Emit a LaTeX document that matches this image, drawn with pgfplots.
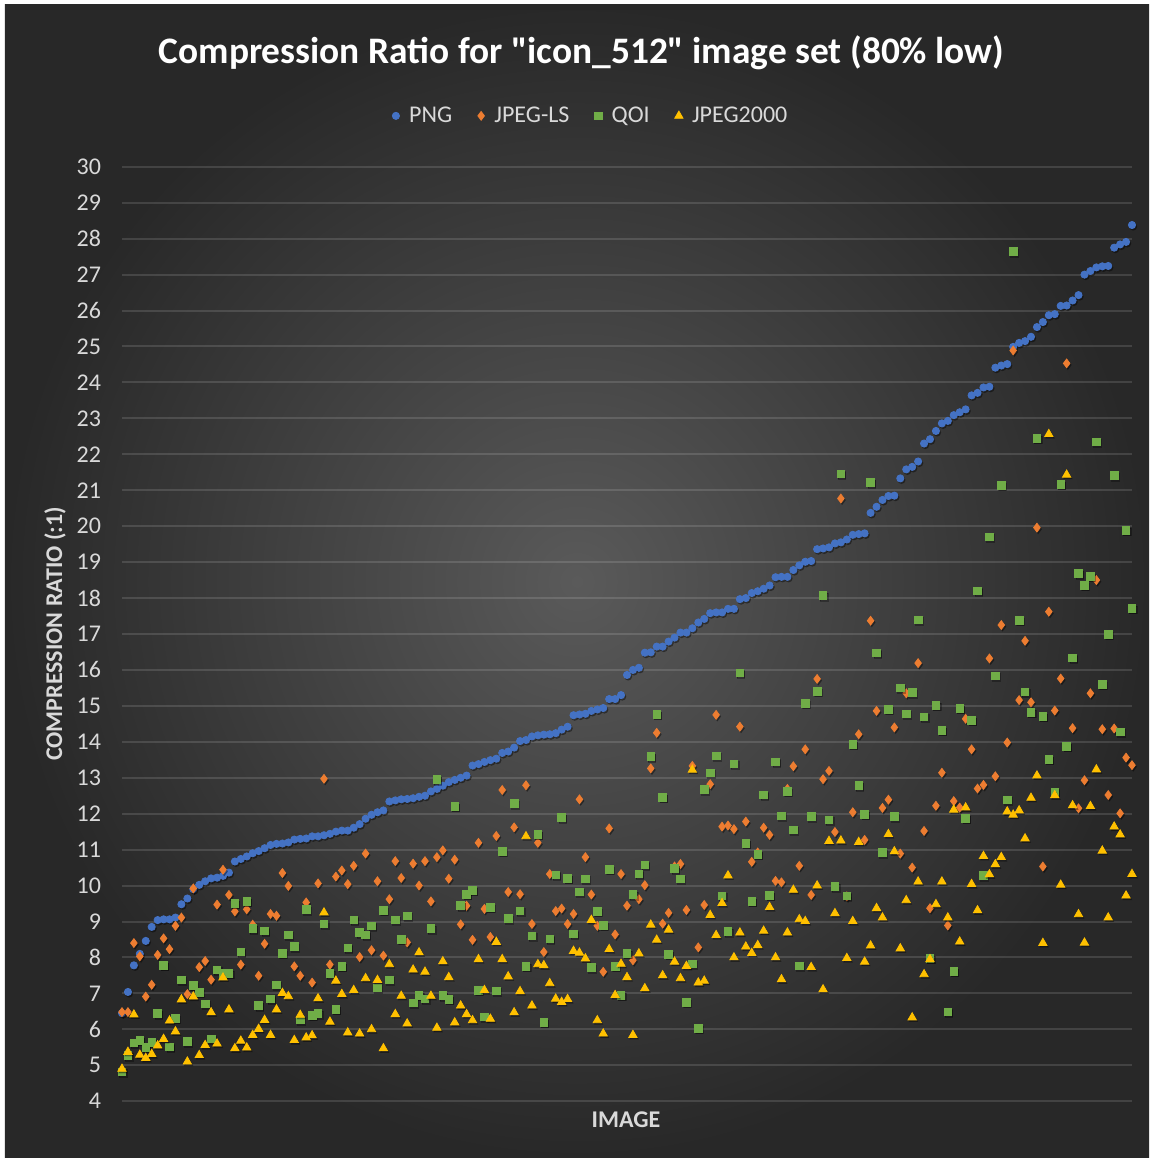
\documentclass[border=0pt]{standalone}
\usepackage{fontspec}
\setmainfont{Carlito}[Ligatures=TeXOff]
\usepackage{pgfplots}
\usepackage{pgfplotstable}
\pgfplotsset{compat=1.18}

\definecolor{pngc}{HTML}{4472C4}
\definecolor{jlsc}{HTML}{ED7D31}
\definecolor{qoic}{HTML}{70AD47}
\definecolor{j2kc}{HTML}{FFC000}
\definecolor{lgray}{RGB}{217,217,217}
\definecolor{bgin}{RGB}{90,90,90}
\definecolor{bgout}{RGB}{40,40,40}

% image index, compression ratio
\pgfplotstableread{
i v
1 6.45
2 7.04
3 7.78
4 8.10
5 8.46
6 8.85
7 9.04
8 9.06
9 9.06
10 9.11
11 9.48
12 9.64
13 9.90
14 10.02
15 10.12
16 10.20
17 10.22
18 10.27
19 10.36
20 10.67
21 10.74
22 10.81
23 10.90
24 10.96
25 11.04
26 11.13
27 11.16
28 11.17
29 11.20
30 11.28
31 11.30
32 11.31
33 11.37
34 11.37
35 11.40
36 11.44
37 11.50
38 11.53
39 11.53
40 11.61
41 11.71
42 11.86
43 11.97
44 12.04
45 12.09
46 12.34
47 12.37
48 12.40
49 12.41
50 12.43
51 12.47
52 12.50
53 12.62
54 12.69
55 12.78
56 12.88
57 12.94
58 13.00
59 13.06
60 13.34
61 13.38
62 13.44
63 13.49
64 13.53
65 13.69
66 13.73
67 13.84
68 14.02
69 14.05
70 14.15
71 14.18
72 14.20
73 14.21
74 14.24
75 14.34
76 14.42
77 14.74
78 14.76
79 14.78
80 14.86
81 14.90
82 14.94
83 15.19
84 15.19
85 15.30
86 15.86
87 16.00
88 16.06
89 16.48
90 16.49
91 16.65
92 16.65
93 16.79
94 16.90
95 17.04
96 17.04
97 17.16
98 17.32
99 17.42
100 17.58
101 17.60
102 17.60
103 17.70
104 17.70
105 17.97
106 18.00
107 18.14
108 18.19
109 18.26
110 18.35
111 18.58
112 18.59
113 18.59
114 18.78
115 18.91
116 19.01
117 19.03
118 19.36
119 19.38
120 19.41
121 19.52
122 19.55
123 19.63
124 19.76
125 19.78
126 19.80
127 20.37
128 20.54
129 20.73
130 20.84
131 20.85
132 21.33
133 21.58
134 21.65
135 21.80
136 22.30
137 22.42
138 22.65
139 22.86
140 22.93
141 23.09
142 23.17
143 23.25
144 23.64
145 23.71
146 23.86
147 23.88
148 24.41
149 24.47
150 24.51
151 24.99
152 25.10
153 25.15
154 25.27
155 25.54
156 25.68
157 25.87
158 25.90
159 26.13
160 26.14
161 26.28
162 26.43
163 27.00
164 27.10
165 27.20
166 27.23
167 27.24
168 27.75
169 27.84
170 27.91
171 28.38
}\pngdata

\pgfplotstableread{
i v
1 6.48
2 6.48
3 8.40
4 8.03
5 6.91
6 7.24
7 8.07
8 8.53
9 8.23
10 8.88
11 9.11
12 6.98
13 9.92
14 7.73
15 7.90
16 7.38
17 9.47
18 10.44
19 9.74
20 9.28
21 7.80
22 9.34
23 8.91
24 7.49
25 8.38
26 9.21
27 9.16
28 10.35
29 9.99
30 7.75
31 7.49
32 9.53
33 7.30
34 10.06
35 12.97
36 7.80
37 10.25
38 10.42
39 10.04
40 10.55
41 8.01
42 10.89
43 8.20
44 10.12
45 8.05
46 9.62
47 10.68
48 10.21
49 8.42
50 10.61
51 10.00
52 10.68
53 9.56
54 10.79
55 10.98
56 10.19
57 10.72
58 8.92
59 9.44
60 8.49
61 11.19
62 9.35
63 8.57
64 11.38
65 12.66
66 9.82
67 11.62
68 9.76
69 12.79
70 8.93
71 11.19
72 8.15
73 10.32
74 9.29
75 9.36
76 8.93
77 9.21
78 12.40
79 10.79
80 9.75
81 8.88
82 7.60
83 11.59
84 8.64
85 10.32
86 9.44
87 7.92
88 9.62
89 10.01
90 13.26
91 14.25
92 8.94
93 9.24
94 10.53
95 10.60
96 9.32
97 13.33
98 8.28
99 9.46
100 12.82
101 14.75
102 11.64
103 11.67
104 11.57
105 14.42
106 11.78
107 10.66
108 10.92
109 11.61
110 11.41
111 10.13
112 10.09
113 12.69
114 13.32
115 10.55
116 13.79
117 9.74
118 15.75
119 12.96
120 13.19
121 11.49
122 20.77
123 9.70
124 12.04
125 14.21
126 11.27
127 17.37
128 14.86
129 12.16
130 12.39
131 14.40
132 10.89
133 15.35
134 10.50
135 16.19
136 11.52
137 9.37
138 12.22
139 13.14
140 8.89
141 12.35
142 12.17
143 14.64
144 13.79
145 12.70
146 12.80
147 16.32
148 13.04
149 17.25
150 13.98
151 24.89
152 15.16
153 16.81
154 15.10
155 19.96
156 10.53
157 17.62
158 14.87
159 15.76
160 24.53
161 14.38
162 12.15
163 12.93
164 15.35
165 18.50
166 14.35
167 12.52
168 14.37
169 12.01
170 13.56
171 13.35
}\jlsdata

\pgfplotstableread{
i v
1 4.81
2 5.27
3 5.62
4 5.69
5 5.50
6 5.64
7 6.44
8 7.78
9 5.51
10 6.31
11 7.37
12 5.66
13 7.23
14 7.03
15 6.71
16 5.73
17 7.65
18 7.56
19 7.56
20 9.51
21 8.15
22 9.56
23 8.80
24 6.66
25 8.74
26 6.85
27 7.24
28 8.11
29 8.63
30 8.30
31 6.26
32 9.33
33 6.39
34 6.44
35 8.93
36 7.55
37 6.56
38 7.75
39 8.27
40 9.04
41 8.69
42 8.63
43 8.88
44 7.15
45 9.31
46 7.37
47 9.05
48 8.51
49 9.16
50 6.74
51 6.95
52 6.85
53 8.80
54 12.95
55 6.94
56 6.83
57 12.21
58 9.44
59 9.76
60 9.87
61 7.09
62 6.35
63 9.40
64 7.07
65 10.95
66 9.08
67 12.28
68 9.30
69 7.75
70 8.60
71 11.43
72 6.19
73 8.52
74 10.30
75 11.89
76 10.20
77 8.66
78 9.82
79 10.19
80 7.72
81 9.28
82 8.89
83 10.45
84 7.75
85 6.95
86 8.12
87 9.75
88 10.33
89 10.57
90 13.59
91 14.76
92 12.46
93 8.09
94 10.47
95 10.19
96 6.75
97 7.82
98 6.03
99 12.67
100 13.14
101 13.61
102 9.71
103 8.72
104 13.39
105 15.92
106 11.18
107 9.56
108 10.87
109 12.52
110 9.73
111 13.44
112 11.94
113 12.62
114 11.55
115 7.77
116 15.07
117 11.92
118 15.40
119 18.07
120 11.83
121 9.97
122 21.46
123 9.71
124 13.93
125 12.78
126 11.98
127 21.21
128 16.47
129 10.92
130 14.91
131 11.92
132 15.50
133 14.78
134 15.37
135 17.39
136 14.69
137 7.98
138 15.02
139 14.32
140 6.49
141 7.62
142 14.93
143 11.87
144 14.60
145 18.20
146 10.28
147 19.70
148 15.83
149 21.14
150 12.38
151 27.64
152 17.38
153 15.39
154 14.82
155 22.45
156 14.71
157 13.51
158 12.61
159 21.17
160 13.88
161 16.34
162 18.68
163 18.36
164 18.60
165 22.34
166 15.60
167 16.99
168 21.41
169 14.28
170 19.89
171 17.72
}\qoidata

\pgfplotstableread{
i v
1 4.90
2 5.37
3 6.41
4 5.29
5 5.20
6 5.31
7 5.55
8 5.73
9 6.24
10 5.94
11 6.83
12 5.10
13 6.91
14 5.28
15 5.56
16 6.47
17 5.60
18 7.44
19 6.55
20 5.47
21 5.68
22 5.49
23 5.84
24 6.01
25 6.26
26 5.84
27 6.55
28 7.01
29 6.92
30 5.70
31 6.40
32 5.77
33 5.83
34 6.86
35 9.25
36 6.21
37 7.35
38 6.98
39 5.91
40 7.09
41 5.88
42 7.42
43 6.00
44 7.37
45 5.47
46 7.81
47 6.42
48 6.93
49 6.16
50 7.66
51 8.14
52 7.60
53 6.93
54 6.04
55 7.89
56 7.45
57 6.19
58 6.66
59 6.42
60 6.25
61 7.95
62 7.09
63 6.29
64 8.43
65 7.95
66 7.47
67 6.47
68 7.06
69 11.37
70 6.66
71 7.81
72 7.78
73 7.28
74 6.85
75 6.76
76 6.84
77 8.18
78 8.13
79 7.97
80 9.04
81 6.25
82 5.88
83 8.23
84 6.95
85 7.82
86 7.45
87 5.84
88 8.11
89 7.14
90 8.91
91 8.49
92 7.50
93 8.77
94 7.88
95 7.42
96 7.76
97 13.22
98 7.30
99 7.35
100 9.18
101 8.62
102 9.51
103 10.28
104 8.00
105 8.69
106 8.30
107 8.12
108 8.34
109 8.74
110 9.40
111 8.00
112 7.39
113 8.69
114 9.88
115 9.06
116 9.01
117 7.73
118 10.00
119 7.11
120 11.24
121 9.23
122 11.25
123 7.98
124 9.01
125 11.21
126 7.88
127 8.33
128 9.37
129 9.11
130 11.43
131 10.95
132 8.25
133 9.59
134 6.33
135 10.11
136 7.53
137 7.95
138 9.48
139 10.11
140 9.11
141 12.11
142 8.44
143 12.17
144 10.04
145 9.31
146 10.82
147 10.31
148 10.59
149 10.79
150 12.06
151 11.97
152 12.09
153 11.31
154 12.44
155 13.06
156 8.40
157 22.56
158 12.51
159 10.02
160 21.43
161 12.23
162 9.20
163 8.41
164 12.21
165 13.23
166 10.97
167 9.11
168 11.64
169 11.42
170 9.72
171 10.32
}\jpkdata

\begin{document}
\begin{tikzpicture}
% chart background (plot area lower left at the origin)
\useasboundingbox (-61pt,-30.9pt) rectangle (516pt,550.6pt);
\fill[white] (-61pt,-30.9pt) rectangle (516pt,550.6pt);
\shade[inner color=bgin, outer color=bgout] (-58.5pt,-28.4pt) rectangle (513.5pt,548.1pt);

\begin{axis}[
  at={(0,0)}, anchor=south west,
  scale only axis, width=505pt, height=467.2pt,
  xmin=1, xmax=171, ymin=4, ymax=30,
  clip=false,
  axis line style={draw=none}, tick style={draw=none},
  xtick=\empty, ytick={4,...,30},
  ymajorgrids, major grid style={white, opacity=0.13, line width=1pt},
  /pgf/number format/assume math mode=true,
  yticklabel style={font=\fontsize{12}{12}\selectfont, text=lgray, anchor=east, xshift=-7pt},
  title={Compression Ratio for "icon\_512" image set (80\% low)},
  title style={at={(0.455,1.109)}, anchor=center, text=white,
    font=\bfseries\fontsize{18.7}{22}\selectfont},
  xlabel={IMAGE}, ylabel={COMPRESSION RATIO (:1)},
  xlabel style={at={(axis description cs:0.499,-0.0201)}, anchor=center,
    text=lgray, font=\bfseries\fontsize{12}{14}\selectfont},
  ylabel style={at={(axis description cs:-0.0663,0.5)}, anchor=center,
    text=lgray, font=\bfseries\fontsize{12}{14}\selectfont},
  legend columns=4,
  legend style={at={(0.465,1.0545)}, anchor=center, draw=none, fill=none,
    text=lgray, font=\fontsize{12}{14}\selectfont,
    /tikz/every even column/.append style={column sep=10.5pt}},
  legend image code/.code={\draw[#1] plot coordinates {(0cm,0cm)};
    \path[draw=none, fill=none] (-2pt,0pt) -- (4.6pt,0pt);},
  shadow/.style={only marks, forget plot, color=black, opacity=0.3,
    every mark/.append style={xshift=0.6pt, yshift=-0.8pt}},
]
% soft drop shadows under the markers
\addplot[shadow, mark=*, mark size=1.8pt] table[x=i, y=v] {\pngdata};
\addplot[only marks, mark=*, mark size=1.8pt, color=pngc] table[x=i, y=v] {\pngdata};
\addlegendentry{PNG}
\addplot[shadow, mark=diamond*, mark size=2.2pt] table[x=i, y=v] {\jlsdata};
\addplot[only marks, mark=diamond*, mark size=2.2pt, color=jlsc] table[x=i, y=v] {\jlsdata};
\addlegendentry{JPEG-LS}
\addplot[shadow, mark=square*, mark size=1.9pt] table[x=i, y=v] {\qoidata};
\addplot[only marks, mark=square*, mark size=1.9pt, color=qoic] table[x=i, y=v] {\qoidata};
\addlegendentry{QOI}
\addplot[shadow, mark=triangle*, mark size=2.4pt] table[x=i, y=v] {\jpkdata};
\addplot[only marks, mark=triangle*, mark size=2.4pt, color=j2kc] table[x=i, y=v] {\jpkdata};
\addlegendentry{JPEG2000}
\end{axis}
\end{tikzpicture}
\end{document}
